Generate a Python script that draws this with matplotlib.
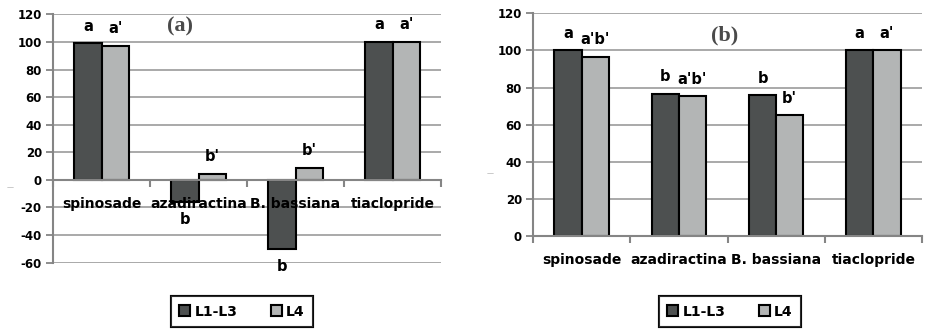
import matplotlib
matplotlib.use("Agg")
import matplotlib.pyplot as plt
import numpy as np
from matplotlib.patches import Patch

categories = ["spinosade", "azadiractina", "B. bassiana", "tiaclopride"]
series_names = ["L1-L3", "L4"]

a_l1l3 = [99, -16, -50, 100]
a_l4 = [97, 4.3, 8.4, 100]
a_let_l1l3 = ["a", "b", "b", "a"]
a_let_l4 = ["a'", "b'", "b'", "a'"]

b_l1l3 = [100, 76.7, 75.9, 100]
b_l4 = [96.7, 75.6, 65, 100]
b_let_l1l3 = ["a", "b", "b", "a"]
b_let_l4 = ["a'b'", "a'b'", "b'", "a'"]

a_yticks = [-60, -40, -20, 0, 20, 40, 60, 80, 100, 120]
b_yticks = [0, 20, 40, 60, 80, 100, 120]

DARK = "#4d5050"
LIGHT = "#b3b5b5"
GRID = "#a3a3a3"
AX = "#858585"
FONT = "DejaVu Sans"

fig = plt.figure(figsize=(9.27, 3.30), dpi=100)
axA = fig.add_axes([53/927, 1-263/330, (441-53)/927, (263-14)/330])
axB = fig.add_axes([533/927, 1-236/330, (922-533)/927, (236-12.7)/330])

def draw(ax, v1, v2, l1, l2, yticks, ylim, title, title_xy, off):
    x = np.arange(len(categories))
    w = 0.28
    ax.set_axisbelow(True)
    ax.yaxis.grid(True, color=GRID, lw=1.3)
    ax.bar(x - w/2, v1, w, color=DARK, edgecolor="black", lw=1.5, zorder=3)
    ax.bar(x + w/2, v2, w, color=LIGHT, edgecolor="black", lw=1.5, zorder=3)
    for xi, v, t in zip(x - w/2, v1, l1):
        ax.annotate(t, (xi, v), xytext=(0, off if v >= 0 else -off),
                    textcoords="offset points", ha="center", va="center",
                    fontsize=10.5, fontweight="bold", family=FONT, zorder=5)
    for xi, v, t in zip(x + w/2, v2, l2):
        ax.annotate(t, (xi, v), xytext=(0, off if v >= 0 else -off),
                    textcoords="offset points", ha="center", va="center",
                    fontsize=10.5, fontweight="bold", family=FONT, zorder=5)
    for xi, c in zip(x, categories):
        ax.annotate(c, (xi, 0), xytext=(0, -17.5), textcoords="offset points",
                    ha="center", va="center", fontsize=10, fontweight="bold",
                    family=FONT, zorder=6, annotation_clip=False)
    ax.set_xlim(-0.5, 3.5)
    ax.set_ylim(*ylim)
    ax.set_yticks(yticks)
    ax.set_yticklabels([str(t) for t in yticks], fontsize=8.5, fontweight="bold", family=FONT)
    ax.set_xticks(np.arange(-0.5, 4.0, 1.0))
    ax.set_xticklabels([])
    ax.tick_params(axis="x", which="major", length=5, width=1.5, color=AX, direction="out")
    ax.tick_params(axis="y", length=5, width=1.3, color=AX, pad=3)
    for s in ["top", "right"]:
        ax.spines[s].set_visible(False)
    ax.spines["left"].set_color(AX)
    ax.spines["left"].set_linewidth(1.5)
    ax.spines["bottom"].set_color(AX)
    ax.spines["bottom"].set_linewidth(1.5)
    ax.spines["bottom"].set_position(("data", 0))
    ax.spines["bottom"].set_zorder(4)
    ax.text(title_xy[0], title_xy[1], title, transform=ax.transAxes, ha="center", va="center",
            fontsize=16, fontweight="bold", family="Liberation Serif", color="#4a4a4a")

draw(axA, a_l1l3, a_l4, a_let_l1l3, a_let_l4, a_yticks, (-60.3, 120.3), "(a)",
     ((180-53)/388, (263-26)/249), 12.5)
draw(axB, b_l1l3, b_l4, b_let_l1l3, b_let_l4, b_yticks, (0, 120.3), "(b)",
     ((725-533)/389, (236-35)/223.3), 12)

fig.text(10/927, 1-187/330, "\u2014", fontsize=5, color="#999999", ha="center", va="center")
fig.text(490/927, 1-173/330, "\u2014", fontsize=5, color="#999999", ha="center", va="center")

handles = [Patch(facecolor=DARK, edgecolor="black", lw=1.5),
           Patch(facecolor=LIGHT, edgecolor="black", lw=1.5)]
for cx in [242/927, 730/927]:
    leg = fig.legend(handles, series_names, loc="center", bbox_to_anchor=(cx, 1-311.5/330),
                     ncol=2, frameon=True, fancybox=False, edgecolor="black",
                     prop={"family": FONT, "weight": "bold", "size": 10},
                     handlelength=0.8, handleheight=0.8, handletextpad=0.3,
                     columnspacing=2.4, borderpad=0.6, borderaxespad=0)
    leg.get_frame().set_linewidth(1.5)
    leg.set_in_layout(False)
    fig.add_artist(leg)

fig.savefig("out.png", dpi=100)
